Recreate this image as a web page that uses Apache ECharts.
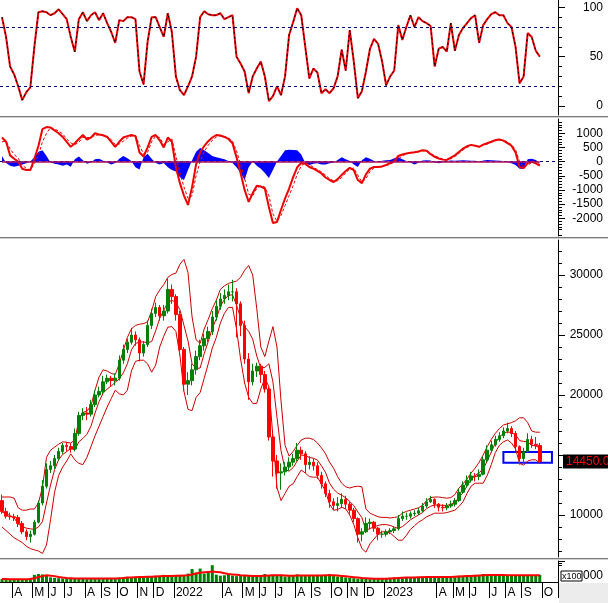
<!DOCTYPE html>
<html><head><meta charset="utf-8">
<script src="https://cdn.jsdelivr.net/npm/echarts@6/dist/echarts.min.js"></script>
<style>html,body{margin:0;padding:0;background:#fff}#c{width:608px;height:603px}</style>
</head><body><div id="c"></div>
<script>
// ---------- categories (weekly, Monday dates) ----------
const DAY = 86400000;
const START = Date.UTC(2021, 2, 8);
const NCAT = 138;
const weeks = [];
for (let i = 0; i < NCAT; i++) weeks.push(new Date(START + i * 7 * DAY).toISOString().slice(0, 10));

// ---------- time-axis tick labels ----------
const tickMonths = ['2021-04','2021-05','2021-06','2021-07','2021-08','2021-09','2021-10','2021-11','2021-12','2022-01','2022-04','2022-05','2022-06','2022-07','2022-08','2022-09','2022-10','2022-11','2022-12','2023-01','2023-04','2023-05','2023-06','2023-07','2023-08','2023-09','2023-10'];
const tickLabels = ['A','M','J','J','A','S','O','N','D','2022','A','M','J','J','A','S','O','N','D','2023','A','M','J','J','A','S','O'];

// ---------- price (weekly OHLC) ----------
const openP = [11200,10300,9900,9850,9800,9300,8600,8200,8400,9400,
11000,12400,13800,14100,14700,15300,15800,15700,15500,16800,
18300,18500,18400,19200,20000,20300,21100,21400,21200,21400,
22900,23800,24400,25000,24600,23500,24200,25800,26800,27300,
26600,27000,28800,28200,26700,23800,20900,21200,22100,23200,
24100,24700,25300,26500,27400,28000,28300,28600,28600,27600,
25800,23000,21100,22000,22400,21700,20500,16500,14500,13500,
13600,14000,14400,14700,15400,15100,14200,14400,14100,13300,
12600,11800,11100,10800,10950,11300,10900,10400,9700,8400,
8600,9300,9400,8900,8400,8400,8600,8700,8850,9700,
9900,9900,10100,10150,10350,10750,11100,11300,10900,10650,
10600,10750,10900,11200,11900,12500,12900,13250,13200,13400,
14600,15400,15850,16300,16600,17000,17200,16800,15700,14700,
15300,16300,15900,15800];
const closeP = [10300,9900,9850,9800,9300,8600,8200,8400,9400,11000,
12400,13800,14100,14700,15300,15800,15700,15500,16800,18300,
18500,18400,19200,20000,20300,21100,21400,21200,21400,22900,
23800,24400,25000,24600,23500,24200,25800,26800,27300,26600,
27000,28800,28200,26700,23800,20900,21200,22100,23200,24100,
24700,25300,26500,27400,28000,28300,28600,28600,27600,25800,
23000,21100,22000,22400,21700,20500,16500,14500,13500,13600,
14000,14400,14700,15400,15100,14200,14400,14100,13300,12600,
11800,11100,10800,10950,11300,10900,10400,9700,8400,8600,
9300,9400,8900,8400,8400,8600,8700,8850,9700,9900,
9900,10100,10150,10350,10750,11100,11300,10900,10650,10600,
10750,10900,11200,11900,12500,12900,13250,13200,13400,14600,
15400,15850,16300,16600,17000,17200,16800,15700,14700,15300,
16300,15900,15800,14450];
const highP = [11700,10600,10200,10100,10000,9500,8800,8700,9600,11200,
12900,14300,14500,15000,15600,16000,16100,16000,17200,18600,
18900,19000,19600,20400,20700,21600,21700,21600,21800,23300,
24200,24700,25600,25300,24800,24500,26200,27200,27700,27500,
27500,29700,29200,28400,27000,24000,21900,22600,23700,24600,
25100,25700,27000,27900,28500,28800,29200,29600,28900,27800,
26200,23500,22600,22700,22600,22000,20700,16800,15000,14300,
14400,14800,15100,16000,15700,15300,14900,14700,14400,13600,
12800,12100,11400,11500,11800,11600,11100,10600,9800,8900,
9800,9700,9500,9000,8700,8800,8900,9000,10000,10300,
10200,10300,10400,10600,11000,11400,11600,11400,11000,10900,
11000,11200,11400,12200,12800,13300,13600,13500,13800,14900,
15800,16200,16600,16900,17300,17700,17400,17000,15800,15600,
16800,16600,16500,16000];
const lowP = [10100,9700,9600,9500,9000,8400,7900,7700,8300,9300,
10800,12200,13500,13800,14500,15100,15300,15200,15300,16600,
17900,17900,18200,19000,19800,20100,20900,20700,20800,21200,
22600,23500,24200,24100,22800,23200,24000,25500,26500,26200,
26200,26800,27600,26200,23300,20300,20000,20800,21700,22900,
23700,24400,25000,26200,27100,27600,27900,27800,24800,24900,
22600,19600,20800,21500,21000,20200,16200,13200,12200,12100,
13300,13700,14100,14500,14600,13500,13800,13700,13000,12200,
11500,10600,10400,10300,10600,10500,10100,9400,7700,7800,
8500,8800,8600,7900,8100,8200,8400,8500,8700,9500,
9600,9700,9900,10000,10200,10600,11000,10600,10300,10300,
10400,10600,10700,11100,11800,12300,12700,12800,12900,13300,
14400,15200,15700,16100,16400,16800,16500,15300,14200,14300,
15200,15600,15500,14350];

// ---------- Bollinger bands ----------
const bandUpper = [11500,11500,11500,11400,10600,10400,10400,10500,10500,11000,
12300,14800,15400,15650,15900,16100,16050,16000,16250,17900,
18550,18650,19100,20400,21500,22100,22000,21800,21700,22600,
23700,24800,25500,25800,25900,25950,26100,27000,28200,28750,
29200,29800,30050,30150,30900,31300,30200,26500,24600,24300,
25500,26300,27200,27900,28800,29100,29300,29400,29500,29800,
30400,30800,30000,27200,24000,23200,24500,25700,24000,19500,
15800,14900,15300,15800,16250,16400,16400,16300,16000,15600,
15100,14400,13900,13200,12650,12350,12250,12350,12400,12350,
10500,10150,10000,9850,9800,9800,9750,9800,9850,10150,
10300,10400,10500,10600,10800,11200,11450,11500,11500,11450,
11400,11450,11700,12250,12600,13000,13500,13900,14400,15000,
15700,16300,16800,17200,17500,17600,17700,17850,18100,18100,
17700,17000,16900,16900];
const bandMiddle = [10250,10100,9950,9750,9250,9050,8900,8850,8800,9000,
9450,11000,12500,13780,14600,15050,15280,15550,15430,16100,
16380,16730,17400,18500,19450,20150,20500,20750,21050,21350,
21850,22600,23750,24300,24400,24430,24350,24450,25350,26380,
27050,27730,27880,27730,27100,25800,24500,22600,22200,22250,
23450,24450,25550,26350,27400,27950,28300,28350,27500,26400,
25700,25300,24650,23250,22250,22300,22600,21100,18150,15350,
13800,13650,13950,14500,15000,14950,14800,14730,14580,14100,
13550,12650,12150,11830,11650,11430,11130,10780,10250,9780,
8700,8880,9000,9130,9200,9200,9130,9000,8880,9030,
9300,9600,9800,10000,10200,10530,10730,10830,10830,10800,
10800,10880,11050,11480,11850,12400,12950,13280,13530,13830,
14500,15250,16000,16500,16800,16930,16850,16680,16200,16130,
16100,15800,15750,15600];
const bandLower = [9000,8700,8400,8100,7900,7700,7400,7200,7100,7000,
6800,7500,9600,11900,13300,14000,14500,15100,14600,14300,
14200,14800,15700,16600,17400,18200,19000,19700,20400,20100,
20000,20400,22000,22800,22900,22900,22600,21900,22500,24000,
24900,25650,25700,25300,23300,20300,18800,18700,19800,20200,
21400,22600,23900,24800,26000,26800,27300,27300,25500,23000,
21000,19800,19300,19300,20500,21400,20700,16500,12300,11200,
11800,12400,12600,13200,13750,13500,13200,13150,13150,12600,
12000,10900,10400,10450,10650,10500,10000,9200,8100,7200,
6900,7600,8000,8400,8600,8600,8500,8200,7900,7900,
8300,8800,9100,9400,9600,9850,10000,10150,10150,10150,
10200,10300,10400,10700,11100,11800,12400,12650,12650,12650,
13300,14200,15200,15800,16100,16250,16000,15500,14300,14150,
14500,14600,14600,14300];

// ---------- stochastic ----------
const stochK = [90,70,40,32,20,6,14,19,60,95,
96,95,92,94,98,93,88,70,55,88,
95,86,92,95,87,94,84,75,64,87,
86,90,90,88,35,22,65,90,90,80,
70,94,75,30,16,11,20,30,50,90,
96,93,92,92,94,88,90,92,50,43,
35,13,30,38,45,30,5,10,20,11,
30,72,85,99,92,60,28,38,34,13,
17,13,18,30,57,36,77,45,8,15,
35,58,68,63,45,21,30,36,82,67,
80,92,80,90,86,84,81,40,58,60,
55,84,56,72,79,84,89,92,64,82,
88,93,95,92,92,84,80,60,23,30,
74,70,56,50];

// ---------- MACD ----------
const macdLine = [850,700,220,100,0,-250,-300,-300,100,550,
1150,1220,1200,1100,1000,870,700,520,650,800,
940,780,850,1000,960,930,870,700,520,700,
850,900,940,900,320,180,500,870,940,750,
500,850,700,-200,-760,-1200,-1530,-900,-100,320,
550,720,850,940,920,870,800,650,150,-400,
-1000,-1420,-1110,-850,-880,-950,-1600,-2170,-2130,-1700,
-1300,-950,-550,-200,-50,-80,-190,-250,-330,-420,
-560,-650,-720,-620,-470,-330,-220,-300,-650,-760,
-450,-250,-190,-190,-170,-120,-50,20,200,250,
290,310,330,360,400,380,260,170,110,70,
60,140,220,340,460,540,590,560,520,600,
650,700,760,780,740,650,560,320,-190,-230,
-50,0,-60,-140];
const macdSignal = [700,720,450,250,120,-120,-240,-290,-80,220,
700,1000,1200,1150,1080,980,800,660,600,680,
860,850,850,930,940,920,880,780,600,620,
720,830,900,920,580,260,330,700,900,850,
600,700,800,200,-400,-900,-1300,-1200,-500,0,
350,580,750,870,910,890,830,720,380,-100,
-600,-1150,-1200,-950,-850,-900,-1200,-1850,-2100,-1900,
-1550,-1200,-850,-450,-150,-50,-110,-200,-280,-360,
-480,-600,-680,-680,-560,-400,-260,-230,-480,-720,
-600,-350,-220,-190,-180,-140,-90,-20,100,200,
270,300,320,340,380,390,300,210,140,90,
60,100,180,290,410,500,570,570,540,570,
620,680,730,770,760,690,600,420,0,-200,
-120,-40,-40,-100];
const macdHist = [200,-50,-150,-180,-150,-100,-60,0,150,350,
400,200,-30,-80,-100,-150,-100,-180,80,180,
50,-80,-30,80,100,30,-30,-100,-50,100,
200,120,20,-200,-280,150,280,100,-50,-100,
-50,-200,-300,-350,-550,-650,-300,50,350,480,
400,300,200,150,120,80,20,-50,-200,-400,
-650,-200,0,-150,-250,-400,-580,-300,0,200,
400,420,410,400,250,-50,-120,-80,-60,-100,
-100,-60,-40,60,150,80,20,-100,-190,50,
150,100,20,-20,30,50,60,120,150,80,
20,-30,-100,-40,40,50,40,-30,-60,-20,
20,40,30,40,50,40,30,30,-20,40,
60,50,40,30,20,-20,-60,-120,-250,-250,
80,100,60,-50];

// ---------- volume (x100 000) ----------
const volume = [14,13,12,12,13,12,14,18,34,38,
36,30,22,20,18,17,16,16,15,18,
18,17,16,17,18,16,17,18,17,20,
22,24,22,25,28,22,26,28,30,26,
34,28,30,32,34,30,40,62,45,64,
40,48,80,35,30,32,38,30,28,30,
34,28,26,28,30,38,30,34,32,30,
26,28,32,36,30,28,30,32,34,30,
32,38,30,26,24,22,20,18,16,18,
16,14,16,16,15,18,20,22,20,24,
22,22,24,22,26,24,22,24,26,24,
22,26,28,30,26,30,32,34,30,38,
34,32,30,32,34,30,32,30,34,32,
34,32,30,34];
const volumeMA = [14,14,13,13,13,13,13,14,18,24,
28,32,30,28,24,21,19,18,17,17,
17,17,17,17,17,17,17,17,17,18,
19,21,22,23,24,24,25,25,26,27,
28,29,29,30,30,31,32,36,40,44,
46,48,50,48,46,42,38,36,34,32,
31,30,29,29,29,30,31,32,32,32,
31,30,30,31,31,31,31,31,31,31,
32,32,32,31,29,27,25,23,21,19,
18,17,16,16,16,16,17,18,19,20,
21,22,22,23,23,24,24,24,24,24,
24,24,25,26,27,28,29,30,31,32,
33,33,33,33,33,32,32,32,32,32,
32,32,32,32];

// ---------- annotations ----------
const lastPrice = 14450;
const boxFrom = 124, boxTo = 136, boxHigh = 15250, boxLow = 14350;
const stochLevels = [80, 20];
const stochTicks = [0, 50, 100];
const macdTicks = [-2000, -1500, -1000, -500, 0, 500, 1000];
const priceTicks = [10000, 15000, 20000, 25000, 30000];
const priceLabels = [10000, 20000, 25000, 30000];

// ---------- build ----------
function range(a, b, s) { const r = []; for (let v = a; v <= b; v += s) r.push(v); return r; }
const tickIndex = {};
tickMonths.forEach((ym, k) => {
  const [y, m] = ym.split('-').map(Number);
  let t = Date.UTC(y, m - 1, 1);
  while ([0, 6].includes(new Date(t).getUTCDay())) t += DAY;
  tickIndex[Math.floor((t - START) / DAY / 7)] = tickLabels[k];
});
const labelByDate = {};
Object.keys(tickIndex).forEach(i => { labelByDate[weeks[i]] = tickIndex[i]; });

const candles = closeP.map((c, i) => [openP[i], c, lowP[i], highP[i]]);
const FONT = '"Liberation Sans", Arial, sans-serif';
const AX = '#000';

function rightAxis(grid, min, max, majors, labels, minors) {
  return [
    {type: 'value', gridIndex: grid, position: 'right', min: min, max: max,
      axisLine: {show: true, lineStyle: {color: AX, width: 1}},
      axisTick: {show: true, length: 7, customValues: majors, lineStyle: {color: AX}},
      axisLabel: {show: true, customValues: labels, formatter: (v) => String(v), align: 'right', margin: 45, fontSize: 12, color: '#000', fontFamily: FONT},
      splitLine: {show: false}},
    {type: 'value', gridIndex: grid, position: 'right', min: min, max: max,
      axisLine: {show: false},
      axisTick: {show: true, length: 4, customValues: minors, lineStyle: {color: AX}},
      axisLabel: {show: false}, splitLine: {show: false}}
  ];
}

const yAxes = [].concat(
  rightAxis(0, -9.1, 107.4, stochTicks, stochTicks, [10,20,30,40,60,70,80,90]),
  rightAxis(1, -2626, 1504, macdTicks, macdTicks, range(-2600, 1500, 100).filter(v => v % 500 !== 0)),
  rightAxis(2, 6500, 32917, priceTicks, priceLabels, range(7000, 32000, 1000).filter(v => v % 5000 !== 0)),
  rightAxis(3, 0, 100, [100], [], [80, 90])
);

const xAxes = [0, 1, 2, 3].map(g => ({
  type: 'category', gridIndex: g, data: weeks, boundaryGap: true,
  show: g === 3,
  axisLine: {show: true, lineStyle: {color: AX, width: 1}},
  axisTick: {show: true, length: 16, interval: (idx) => tickIndex[idx] !== undefined, lineStyle: {color: AX}},
  axisLabel: {show: true, interval: (idx) => tickIndex[idx] !== undefined,
    formatter: (v) => labelByDate[v] || '', align: 'left', margin: 5, fontSize: 12, color: '#000', fontFamily: FONT},
  splitLine: {show: false}
}));

const bandLine = (data) => ({type: 'line', xAxisIndex: 2, yAxisIndex: 4, data: data, symbol: 'none',
  lineStyle: {color: '#cc0000', width: 1}, z: 2});

const option = {
  animation: false,
  backgroundColor: '#ffffff',
  textStyle: {fontFamily: FONT},
  grid: [
    {left: 0, right: 50, top: 0, height: 115},
    {left: 0, right: 50, top: 119, height: 117},
    {left: 0, right: 50, top: 240, height: 317},
    {left: 0, right: 50, top: 561, height: 21}
  ],
  xAxis: xAxes,
  yAxis: yAxes,
  series: [
    {type: 'line', xAxisIndex: 0, yAxisIndex: 0, data: stochK, symbol: 'none',
      lineStyle: {color: '#ee0000', width: 2}, z: 3,
      markLine: {silent: true, symbol: 'none', label: {show: false},
        lineStyle: {color: '#000080', width: 1, type: [3, 3]},
        data: stochLevels.map(v => ({yAxis: v}))}},
    {type: 'line', xAxisIndex: 0, yAxisIndex: 0, data: stochK, symbol: 'none',
      lineStyle: {color: '#000000', width: 1, type: [2, 3]}, z: 4},
    {type: 'line', xAxisIndex: 1, yAxisIndex: 2, data: macdHist, symbol: 'none',
      lineStyle: {width: 0}, areaStyle: {color: '#0000ff', opacity: 1}, z: 2,
      markLine: {silent: true, symbol: 'none', label: {show: false},
        data: [
          {yAxis: 0, lineStyle: {color: '#000080', width: 1, type: [3, 3]}},
          [{coord: [weeks[0], 0], lineStyle: {color: '#b0105a', width: 1.5, type: 'solid'}}, {coord: [weeks[closeP.length - 1], 0]}]
        ]}},
    {type: 'line', xAxisIndex: 1, yAxisIndex: 2, data: macdSignal, symbol: 'none',
      lineStyle: {color: '#ee0000', width: 1, type: [3, 2]}, z: 3},
    {type: 'line', xAxisIndex: 1, yAxisIndex: 2, data: macdLine, symbol: 'none',
      lineStyle: {color: '#ee0000', width: 2}, z: 4},
    bandLine(bandUpper), bandLine(bandMiddle), bandLine(bandLower),
    {type: 'candlestick', xAxisIndex: 2, yAxisIndex: 4, data: candles, barWidth: 3, z: 3,
      itemStyle: {color: '#008000', color0: '#ff0000', borderColor: '#008000', borderColor0: '#ff0000', borderWidth: 1},
      markLine: {silent: true, symbol: 'none', lineStyle: {color: 'rgba(0,0,0,0)', width: 1},
        label: {show: true, position: 'end', distance: 5, formatter: () => lastPrice.toFixed(2),
          color: '#ff0000', backgroundColor: '#000000', fontSize: 12, padding: [1, 3], fontFamily: FONT, opacity: 1},
        data: [{yAxis: lastPrice}]},
      markArea: {silent: true,
        itemStyle: {color: 'rgba(0,0,0,0)', borderColor: '#0000ff', borderWidth: 2},
        data: [[{coord: [weeks[boxFrom], boxHigh]}, {coord: [weeks[boxTo], boxLow]}]]}},
    {type: 'bar', xAxisIndex: 3, yAxisIndex: 6, data: volume, barWidth: 3,
      itemStyle: {color: '#008000'}, z: 2},
    {type: 'line', xAxisIndex: 3, yAxisIndex: 6, data: volumeMA, symbol: 'none',
      lineStyle: {color: '#ff0000', width: 2}, z: 3}
  ],
  graphic: [
    {type: 'rect', shape: {x: 0, y: 116, width: 608, height: 1}, style: {fill: '#7a7a7a'}, silent: true},
    {type: 'rect', shape: {x: 0, y: 117, width: 608, height: 1}, style: {fill: '#d0d0d0'}, silent: true},
    {type: 'rect', shape: {x: 0, y: 237, width: 608, height: 1}, style: {fill: '#7a7a7a'}, silent: true},
    {type: 'rect', shape: {x: 0, y: 238, width: 608, height: 1}, style: {fill: '#d0d0d0'}, silent: true},
    {type: 'rect', shape: {x: 0, y: 558, width: 608, height: 1}, style: {fill: '#7a7a7a'}, silent: true},
    {type: 'rect', shape: {x: 0, y: 559, width: 608, height: 1}, style: {fill: '#d0d0d0'}, silent: true},
    {type: 'rect', shape: {x: 559, y: 583, width: 49, height: 20}, style: {fill: '#ececec'}, silent: true},
    {type: 'rect', shape: {x: 561, y: 571, width: 21, height: 10}, style: {fill: '#ffffff', stroke: '#000', lineWidth: 1}, silent: true},
    {type: 'text', x: 562, y: 572, style: {text: 'x100', fontSize: 9, fill: '#000', font: '9px ' + FONT}, silent: true},
    {type: 'text', x: 583, y: 570, style: {text: '000', fontSize: 12, fill: '#000', font: '12px ' + FONT}, silent: true}
  ]
};
echarts.init(document.getElementById('c'), null, {renderer: 'canvas'}).setOption(option);
</script></body></html>
